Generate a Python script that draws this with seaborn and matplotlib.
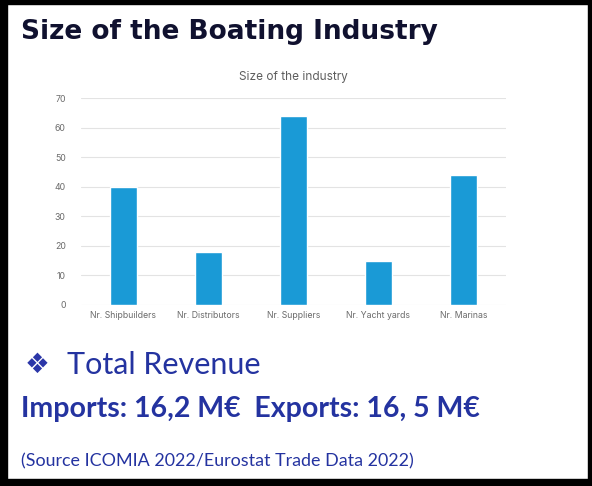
import matplotlib
matplotlib.use("Agg")
import matplotlib.pyplot as plt
import seaborn as sns
import pandas as pd
from matplotlib.patches import Rectangle

categories = ["Nr. Shipbuilders", "Nr. Distributors", "Nr. Suppliers", "Nr. Yacht yards", "Nr. Marinas"]
counts = [40, 18, 64, 15, 44]
y_ticks = [0, 10, 20, 30, 40, 50, 60, 70]

slide_title = "Size of the Boating Industry"
chart_title = "Size of the industry"
bullet_text = "Total Revenue"
revenue_text = "Imports: 16,2 M\u20ac  Exports: 16, 5 M\u20ac"
source_text = "(Source ICOMIA 2022/Eurostat Trade Data 2022)"

sns.set_theme(style="white")
plt.rcParams["font.family"] = ["Lato", "DejaVu Sans"]

W, H = 592, 486
fig = plt.figure(figsize=(W / 100, H / 100), dpi=100)
fig.patch.set_facecolor("white")

df = pd.DataFrame({"category": categories, "count": counts})

ax = fig.add_axes([81 / W, 1 - 305 / H, (506 - 81) / W, (305 - 98.3) / H])
sns.barplot(data=df, x="category", y="count", order=categories, color="#1a9ad6",
            saturation=1, width=0.32, ax=ax)
ax.set_xlim(-0.5, len(categories) - 0.5)
ax.set_ylim(0, 70)
ax.set_yticks(y_ticks)
ax.yaxis.grid(True, color="#e3e3e3", linewidth=0.8)
ax.set_axisbelow(True)
for s in ax.spines.values():
    s.set_visible(False)
ax.set_xlabel("")
ax.set_ylabel("")
ax.tick_params(axis="both", length=0, labelsize=6.3, colors="#6b6b6b", pad=4)
ax.tick_params(axis="y", pad=11)
for lab in ax.get_xticklabels() + ax.get_yticklabels():
    lab.set_family(["Inter", "DejaVu Sans"])
ax.set_title(chart_title, fontsize=8.5, color="#5e5e5e", pad=13, family=["Inter", "DejaVu Sans"])


def put(x, y, s, **kw):
    fig.text(x / W, 1 - y / H, s, va="center", ha="left", **kw)


put(21, 32, slide_title, fontsize=19, fontweight="bold", color="#10112f",
    family=["DejaVu Sans"])
put(25, 365, "\u2756", fontsize=20, color="#2b36a8", family=["DejaVu Sans"])
put(67, 365, bullet_text, fontsize=22, color="#2433a0", family=["Lato", "DejaVu Sans"])
put(21, 409, revenue_text, fontsize=20.5, fontweight="bold", color="#2433a0",
    family=["Lato", "DejaVu Sans"])
put(21, 461, source_text, fontsize=12.9, color="#2433a0", family=["Lato", "DejaVu Sans"])

# black frame
for (x0, y0, w, h) in [(0, 0, W, 4), (0, 0, 7, H), (W - 4, 0, 4, H), (0, H - 7, W, 7)]:
    fig.patches.append(Rectangle((x0 / W, 1 - (y0 + h) / H), w / W, h / H,
                                 transform=fig.transFigure, color="black", zorder=10))

fig.savefig("out.png", dpi=100)
